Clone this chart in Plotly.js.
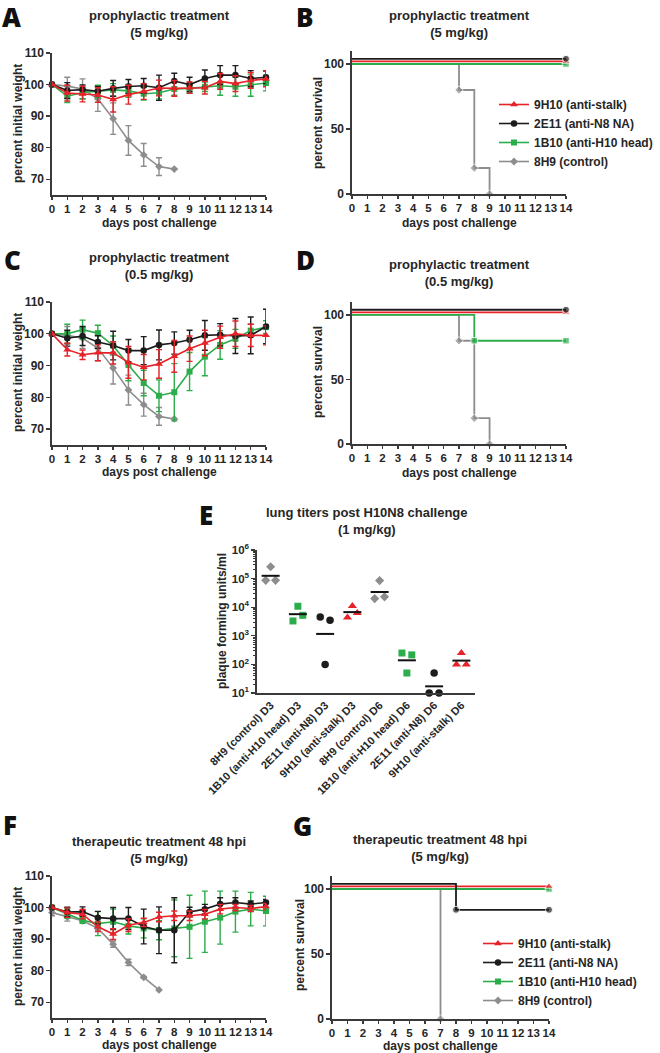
<!DOCTYPE html>
<html>
<head>
<meta charset="utf-8">
<script src="https://cdn.plot.ly/plotly-3.0.1.min.js"></script>
<style>
  html, body { margin: 0; padding: 0; background: #fff; }
  #chart { width: 660px; height: 1053px; }
</style>
</head>
<body>
<div id="chart"></div>
<script>
// ---- data ----
const days = [0, 1, 2, 3, 4, 5, 6, 7, 8, 9, 10, 11, 12, 13, 14];
const ctrlDays = [0, 1, 2, 3, 4, 5, 6, 7, 8];
const ctrlDaysF = [0, 1, 2, 3, 4, 5, 6, 7];

// A: prophylactic 5 mg/kg, % initial weight (mean, error)
const aStalk = [100, 97.3, 97, 96.7, 95.3, 96.8, 97.8, 98.9, 98.8, 99, 99, 101, 100.3, 101.3, 101.8];
const aStalkErr = [0, 2.5, 2.5, 2.3, 4, 3, 2.5, 2.5, 2.5, 1.8, 2, 2.5, 2.5, 2.5, 2.5];
const aNa = [100, 98.1, 98.4, 97.9, 98.8, 99.4, 99.6, 99, 101.1, 100, 101.9, 103, 103, 101.9, 102.3];
const aNaErr = [0, 2.5, 1.5, 1.5, 2.5, 2.2, 2.3, 4, 2.5, 2.3, 2.7, 3, 3, 2.5, 2];
const aHead = [100, 96.3, 97.5, 97.8, 98.3, 98, 97.1, 97.4, 98.6, 98.8, 99.3, 99.6, 99.3, 99.8, 100.5];
const aHeadErr = [0, 2, 2, 2, 2, 2, 2, 2, 2, 1.5, 1.5, 3, 3, 3.5, 2.5];
// control group is the same in A and C
const ctrlWeight = [100, 99.5, 98.6, 95.5, 89.2, 82.3, 77.7, 74, 73.2];
const ctrlWeightErr = [0, 2.8, 3.2, 4, 5, 4.7, 3.6, 2.8, 0];

// C: prophylactic 0.5 mg/kg
const cStalk = [100, 95, 93.4, 94, 94, 91, 89.5, 90.5, 92.9, 95.3, 97.1, 98.9, 100, 99.5, 99.5];
const cStalkErr = [0, 2, 1.5, 2.5, 3.5, 5, 4, 4.5, 5, 4, 4, 3.5, 4, 3.5, 3];
const cNa = [100, 98.6, 99.3, 97.4, 96.3, 94.7, 94.7, 96.5, 97.1, 98.1, 99.5, 99.7, 99.3, 99.5, 102.3];
const cNaErr = [0, 2.5, 3, 2, 4.5, 3.5, 4.4, 4.7, 3.5, 3, 4.7, 3.5, 5.5, 5.8, 5.4];
const cHead = [100, 100, 101.3, 100.2, 96.3, 90.2, 84.5, 80.5, 81.6, 88.1, 92.8, 96.5, 98.4, 101, 102.1];
const cHeadErr = [0, 3, 3, 2.5, 3, 5, 4, 5, 9, 6, 6, 4.5, 3, 2, 2];

// F: therapeutic 48 hpi, 5 mg/kg
const fStalk = [100, 98.4, 97.9, 93.9, 91.6, 94.4, 95.3, 97, 97.4, 97.4, 97.9, 99.5, 100, 99.7, 100.3];
const fStalkErr = [0, 1.5, 1.5, 1.5, 1.7, 2, 1.3, 1.5, 1.5, 1.5, 1.5, 1.5, 1, 1, 1];
const fNa = [100, 98.6, 98.7, 96.8, 96.5, 96.5, 94, 92.8, 92.8, 98.6, 99.5, 101.1, 101.6, 101.1, 101.6];
const fNaErr = [0, 1.5, 1.5, 2, 3.5, 3.5, 5.5, 7.4, 10.3, 1.5, 1.5, 2, 1.5, 1, 1];
const fHead = [100, 98.1, 96, 94.9, 95.5, 94.2, 93.4, 92.8, 93.4, 93.9, 95.5, 96.8, 98.7, 99.5, 98.9];
const fHeadErr = [0, 1.5, 1, 3.8, 4, 2.6, 3, 3, 9, 10, 9.7, 8.4, 6.5, 5.3, 4.7];
const fCtrl = [98.4, 97, 95.8, 93.4, 88.4, 82.6, 77.9, 73.9];
const fCtrlErr = [1, 1.3, 0.5, 0.5, 1, 1, 0.3, 0];

// survival (%), curves at 100 % drawn slightly apart as in the figure
const flatDays = [0, 14];
const stalkSurv = [102, 102];
const naSurv = [104, 104];
const headSurv = [100, 100];
const ctrlSurvDays = [0, 7, 8, 9];
const ctrlSurv = [100, 80, 20, 0];
const dHeadDays = [0, 8, 14];
const dHeadSurv = [100, 80, 80];
const gNaDays = [0, 8, 14];
const gNaSurv = [104, 84, 84];
const gCtrlDays = [0, 7];
const gCtrlSurv = [100, 0];

// E: lung titers (pfu/ml), three mice per group
const titerLabels = ['8H9 (control) D3', '1B10 (anti-H10 head) D3', '2E11 (anti-N8) D3', '9H10 (anti-stalk) D3',
  '8H9 (control) D6', '1B10 (anti-H10 head) D6', '2E11 (anti-N8) D6', '9H10 (anti-stalk) D6'];
const titerGroups = ['ctrl', 'head', 'na', 'stalk', 'ctrl', 'head', 'na', 'stalk'];
const ctrlD3 = [2.6e5, 8.7e4, 8.7e4];
const headD3 = [1.08e4, 3.3e3, 5.2e3];
const naD3 = [100, 4.5e3, 3.5e3];
const stalkD3 = [1.1e4, 4.4e3, 6.3e3];
const ctrlD6 = [8.5e4, 2.0e4, 2.3e4];
const headD6 = [50, 250, 215];
const naD6 = [50, 10, 10];
const stalkD6 = [250, 100, 100];
const titers = [ctrlD3, headD3, naD3, stalkD3, ctrlD6, headD6, naD6, stalkD6];

// ---- styling ----
const W = 660, H = 1053;
const FONT = '"Liberation Sans", Arial, sans-serif';
const INK = '#262626';
const COL = { stalk: '#e52329', na: '#1c1c1c', head: '#2cad4b', ctrl: '#8d8d8d' };
const SYM = { stalk: 'triangle-up', na: 'circle', head: 'square', ctrl: 'diamond' };
const SIZE = { stalk: 7, na: 6.5, head: 6, ctrl: 6 };
const NAME = { stalk: '9H10 (anti-stalk)', na: '2E11 (anti-N8 NA)', head: '1B10 (anti-H10 head)', ctrl: '8H9 (control)' };
const RANK = { stalk: 1, na: 2, head: 3, ctrl: 4 };
const jitter = [0, -0.18, 0.18];

function px(a, b) { return [a / W, b / W]; }
function py(top, bottom) { return [1 - bottom / H, 1 - top / H]; }
function axId(n, c) { return n === 1 ? c : c + n; }

function weightTrace(key, x, y, err, n, legend) {
  return {
    type: 'scatter', mode: 'lines+markers', x: x, y: y,
    xaxis: axId(n, 'x'), yaxis: axId(n, 'y'),
    name: NAME[key], legendrank: RANK[key],
    legend: legend || 'legend', showlegend: !!legend,
    cliponaxis: false, hoverinfo: 'skip',
    line: { color: COL[key], width: 1.6 },
    marker: { color: COL[key], symbol: SYM[key], size: SIZE[key] },
    error_y: { type: 'data', array: err, color: COL[key], thickness: 1.4, width: 3 }
  };
}

function survTrace(key, x, y, n) {
  return {
    type: 'scatter', mode: 'lines+markers', x: x, y: y,
    xaxis: axId(n, 'x'), yaxis: axId(n, 'y'),
    showlegend: false, cliponaxis: false, hoverinfo: 'skip',
    line: { color: COL[key], width: 1.8, shape: 'hv' },
    marker: { color: COL[key], symbol: SYM[key], size: x.map(d => d === 0 ? 0 : SIZE[key] + 0.5) }
  };
}

const traces = [
  // A
  weightTrace('ctrl', ctrlDays, ctrlWeight, ctrlWeightErr, 1, 'legend'),
  weightTrace('head', days, aHead, aHeadErr, 1, 'legend'),
  weightTrace('na', days, aNa, aNaErr, 1, 'legend'),
  weightTrace('stalk', days, aStalk, aStalkErr, 1, 'legend'),
  // B
  survTrace('ctrl', ctrlSurvDays, ctrlSurv, 2),
  survTrace('head', flatDays, headSurv, 2),
  survTrace('stalk', flatDays, stalkSurv, 2),
  survTrace('na', flatDays, naSurv, 2),
  // C
  weightTrace('ctrl', ctrlDays, ctrlWeight, ctrlWeightErr, 3),
  weightTrace('head', days, cHead, cHeadErr, 3),
  weightTrace('na', days, cNa, cNaErr, 3),
  weightTrace('stalk', days, cStalk, cStalkErr, 3),
  // D
  survTrace('ctrl', ctrlSurvDays, ctrlSurv, 4),
  survTrace('head', dHeadDays, dHeadSurv, 4),
  survTrace('stalk', flatDays, stalkSurv, 4),
  survTrace('na', flatDays, naSurv, 4),
  // F
  weightTrace('ctrl', ctrlDaysF, fCtrl, fCtrlErr, 6, 'legend2'),
  weightTrace('head', days, fHead, fHeadErr, 6, 'legend2'),
  weightTrace('na', days, fNa, fNaErr, 6, 'legend2'),
  weightTrace('stalk', days, fStalk, fStalkErr, 6, 'legend2'),
  // G
  survTrace('ctrl', gCtrlDays, gCtrlSurv, 7),
  survTrace('head', flatDays, headSurv, 7),
  survTrace('stalk', flatDays, stalkSurv, 7),
  survTrace('na', gNaDays, gNaSurv, 7)
];

// E: dots and geometric-mean bars
titers.forEach((vals, i) => {
  const key = titerGroups[i];
  traces.push({
    type: 'scatter', mode: 'markers', xaxis: 'x5', yaxis: 'y5',
    x: vals.map((v, j) => i + jitter[j]), y: vals,
    showlegend: false, cliponaxis: false, hoverinfo: 'skip',
    marker: { color: COL[key], symbol: SYM[key], size: SIZE[key] + 1 }
  });
  const gm = Math.pow(10, vals.reduce((s, v) => s + Math.log10(v), 0) / vals.length);
  traces.push({
    type: 'scatter', mode: 'lines', xaxis: 'x5', yaxis: 'y5',
    x: [i - 0.33, i + 0.33], y: [gm, gm],
    showlegend: false, cliponaxis: false, hoverinfo: 'skip',
    line: { color: '#111', width: 2 }
  });
});

const baseAx = {
  showgrid: false, zeroline: false, showline: true, linecolor: '#3a3a3a', linewidth: 1.6,
  ticks: 'outside', ticklen: 4, tickwidth: 1.4, tickcolor: '#3a3a3a', fixedrange: true,
  tickfont: { family: FONT, size: 12, color: INK, weight: 'bold' }
};
const dayAx = {
  ...baseAx, range: [0, 14], tick0: 0, dtick: 1, tickangle: 0, ticklen: 3,
  tickfont: { family: FONT, size: 11.5, color: INK, weight: 'bold' }
};
const weightAx = { ...baseAx, range: [65, 110], tickvals: [70, 80, 90, 100, 110] };
const survAx = { ...baseAx, range: [0, 110], tickvals: [0, 50, 100] };

const minorVals = [];
for (let d = 1; d < 6; d++) for (let k = 2; k < 10; k++) minorVals.push(k * Math.pow(10, d));

function note(text, x, y, extra) {
  return Object.assign({
    text: text, x: x / W, y: 1 - y / H, xref: 'paper', yref: 'paper', showarrow: false,
    xanchor: 'center', yanchor: 'middle',
    font: { family: FONT, size: 12, color: INK, weight: 'bold' }
  }, extra || {});
}
const titleFont = { family: FONT, size: 13, color: INK, weight: 'bold' };
const letterFont = { family: '"Open Sans", sans-serif', size: 26, color: '#111', weight: 800 };

const annotations = [
  note('A', 11, 17, { font: letterFont }),
  note('B', 305, 17, { font: letterFont }),
  note('C', 12, 260, { font: letterFont }),
  note('D', 305, 260, { font: letterFont }),
  note('E', 206, 515, { font: letterFont }),
  note('F', 10, 825, { font: letterFont }),
  note('G', 302, 826, { font: letterFont }),

  note('prophylactic treatment<br>(5 mg/kg)', 159, 24, { font: titleFont }),
  note('prophylactic treatment<br>(5 mg/kg)', 459, 24, { font: titleFont }),
  note('prophylactic treatment<br>(0.5 mg/kg)', 159, 266, { font: titleFont }),
  note('prophylactic treatment<br>(0.5 mg/kg)', 459, 273, { font: titleFont }),
  note('lung titers post H10N8 challenge<br>(1 mg/kg)', 367, 521, { font: titleFont }),
  note('therapeutic treatment 48 hpi<br>(5 mg/kg)', 159, 850, { font: titleFont }),
  note('therapeutic treatment 48 hpi<br>(5 mg/kg)', 440, 848, { font: titleFont }),

  note('days post challenge', 159, 223),
  note('days post challenge', 459, 223),
  note('days post challenge', 159, 472),
  note('days post challenge', 459, 473),
  note('days post challenge', 159, 1045),
  note('days post challenge', 440, 1046),

  note('percent initial weight', 18, 124, { textangle: -90 }),
  note('percent survival', 318, 123, { textangle: -90 }),
  note('percent initial weight', 18, 373, { textangle: -90 }),
  note('percent survival', 318, 372, { textangle: -90 }),
  note('plaque forming units/ml', 222, 621, { textangle: -90 }),
  note('percent initial weight', 18, 947, { textangle: -90 }),
  note('percent survival', 300, 945, { textangle: -90 })
];

const legendStyle = {
  xanchor: 'left', yanchor: 'top', bgcolor: 'rgba(0,0,0,0)', borderwidth: 0,
  font: { family: FONT, size: 12, color: INK, weight: 'bold' },
  itemclick: false, itemdoubleclick: false
};

const layout = {
  width: W, height: H,
  margin: { l: 0, r: 0, t: 0, b: 0 },
  paper_bgcolor: '#fff', plot_bgcolor: '#fff',
  showlegend: true,
  legend: { ...legendStyle, x: 494 / W, y: 1 - 90 / H },
  legend2: { ...legendStyle, x: 478 / W, y: 1 - 929 / H },

  xaxis: { ...dayAx, domain: px(52, 266), anchor: 'y' },
  yaxis: { ...weightAx, domain: py(53, 195), anchor: 'x' },
  xaxis2: { ...dayAx, domain: px(352, 566), anchor: 'y2' },
  yaxis2: { ...survAx, domain: py(51, 194), anchor: 'x2' },
  xaxis3: { ...dayAx, domain: px(52, 266), anchor: 'y3' },
  yaxis3: { ...weightAx, domain: py(302, 445), anchor: 'x3' },
  xaxis4: { ...dayAx, domain: px(352, 566), anchor: 'y4' },
  yaxis4: { ...survAx, domain: py(302, 444), anchor: 'x4' },
  xaxis5: {
    ...baseAx, domain: px(257, 475), anchor: 'y5', range: [-0.5, 7.5],
    tickvals: titerLabels.map((t, i) => i), ticktext: titerLabels, tickangle: -45, ticks: '',
    tickfont: { family: FONT, size: 11, color: INK, weight: 'bold' }
  },
  yaxis5: {
    ...baseAx, type: 'log', domain: py(550, 693), anchor: 'x5', range: [1, 6],
    tickvals: [1e1, 1e2, 1e3, 1e4, 1e5, 1e6],
    ticktext: ['10<sup>1</sup>', '10<sup>2</sup>', '10<sup>3</sup>', '10<sup>4</sup>', '10<sup>5</sup>', '10<sup>6</sup>'],
    tickfont: { family: FONT, size: 11.5, color: INK, weight: 'bold' },
    minor: { ticks: 'outside', ticklen: 2.5, tickwidth: 1, tickcolor: '#3a3a3a', tickvals: minorVals }
  },
  xaxis6: { ...dayAx, domain: px(52, 266), anchor: 'y6' },
  yaxis6: { ...weightAx, domain: py(876, 1018), anchor: 'x6' },
  xaxis7: { ...dayAx, domain: px(332, 549), anchor: 'y7' },
  yaxis7: { ...survAx, domain: py(876, 1019), anchor: 'x7' },

  annotations: annotations
};

Plotly.newPlot('chart', traces, layout, { staticPlot: true, displayModeBar: false });
</script>
</body>
</html>
